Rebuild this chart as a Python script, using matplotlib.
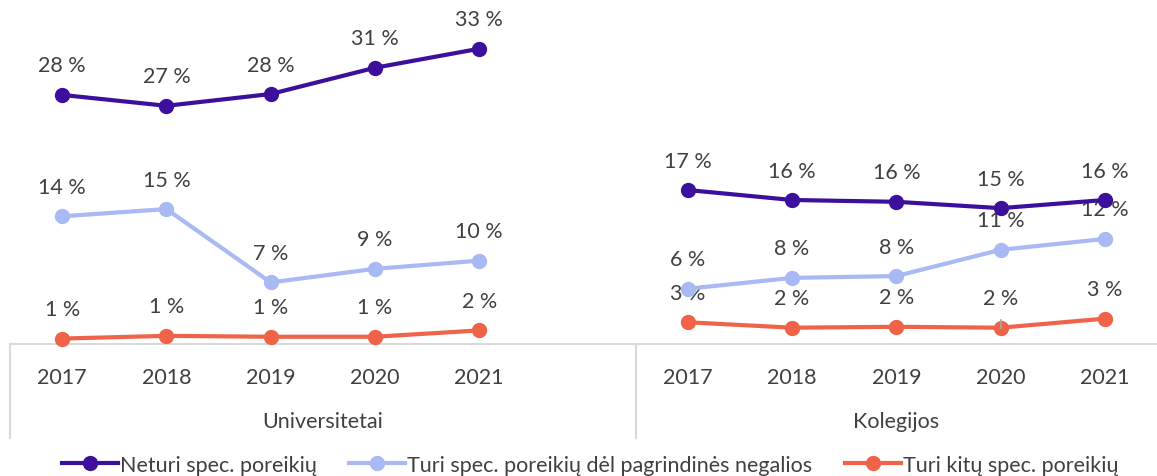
import matplotlib.pyplot as plt
import numpy as np

plt.rcParams['font.family'] = ['Lato', 'DejaVu Sans']

years = ['2017', '2018', '2019', '2020', '2021']
groups = ['Universitetai', 'Kolegijos']
series = ['Neturi spec. poreikių', 'Turi spec. poreikių dėl pagrindinės negalios', 'Turi kitų spec. poreikių']

uni_neturi = [27.9, 26.7, 28.0, 30.9, 33.0]
uni_pagr = [14.5, 15.3, 7.2, 8.7, 9.6]
uni_kitu = [1.0, 1.3, 1.2, 1.2, 1.9]
kol_neturi = [17.4, 16.3, 16.1, 15.4, 16.3]
kol_pagr = [6.5, 7.7, 7.9, 10.8, 12.0]
kol_kitu = [2.8, 2.2, 2.3, 2.2, 3.2]

colors = ['#3c0f9c', '#a8b9f4', '#ef6348']
txt = '#404040'
fs = 15.5

fig = plt.figure(figsize=(11.57, 4.77), dpi=100)
ax = fig.add_axes([10/1157, 1 - 345/477, 1147/1157, 317/477])

x_uni = np.arange(5)
x_kol = np.arange(6, 11)
handles = []
for i, (u, k) in enumerate([(uni_neturi, kol_neturi), (uni_pagr, kol_pagr), (uni_kitu, kol_kitu)]):
    for xs, vals in [(x_uni, u), (x_kol, k)]:
        h, = ax.plot(xs, vals, '-o', color=colors[i], lw=3, ms=10, clip_on=False, zorder=4, label=series[i])
        for xx, v in zip(xs, vals):
            ax.annotate(f'{round(v):.0f} %', (xx, v), xytext=(0, 14), textcoords='offset points',
                        ha='center', va='bottom', fontsize=fs, color=txt)
    handles.append(h)

# leader line for the shifted label
ax.plot([9, 9], [2.2, 3.0], color='#a6a6a6', lw=1.2, zorder=5)

ax.set_xlim(-0.5, 10.5)
ax.set_ylim(0.4, 35.4)
ax.set_xticks([])
ax.set_yticks([])
for s in ['top', 'right', 'left']:
    ax.spines[s].set_visible(False)
ax.spines['bottom'].set_color('#d9d9d9')
ax.spines['bottom'].set_linewidth(1.5)

trans = ax.get_xaxis_transform()
for xs in [x_uni, x_kol]:
    for xx, yr in zip(xs, years):
        ax.text(xx, -0.105, yr, transform=trans, ha='center', va='center', fontsize=fs, color=txt)
ax.text(2.5, -0.243, groups[0], transform=trans, ha='center', va='center', fontsize=fs, color=txt)
ax.text(8, -0.243, groups[1], transform=trans, ha='center', va='center', fontsize=fs, color=txt)
for xv in [-0.5, 5.5]:
    ax.plot([xv, xv], [0, -0.295], transform=trans, color='#d9d9d9', lw=1.5, clip_on=False)

fig.legend(handles=handles, labels=series, loc='center', bbox_to_anchor=(590/1157, 1 - 466/477),
           ncol=3, frameon=False, fontsize=fs, handlelength=2.6, handletextpad=0.1,
           columnspacing=1.5, labelcolor=txt)

fig.savefig('out.png', dpi=100)
